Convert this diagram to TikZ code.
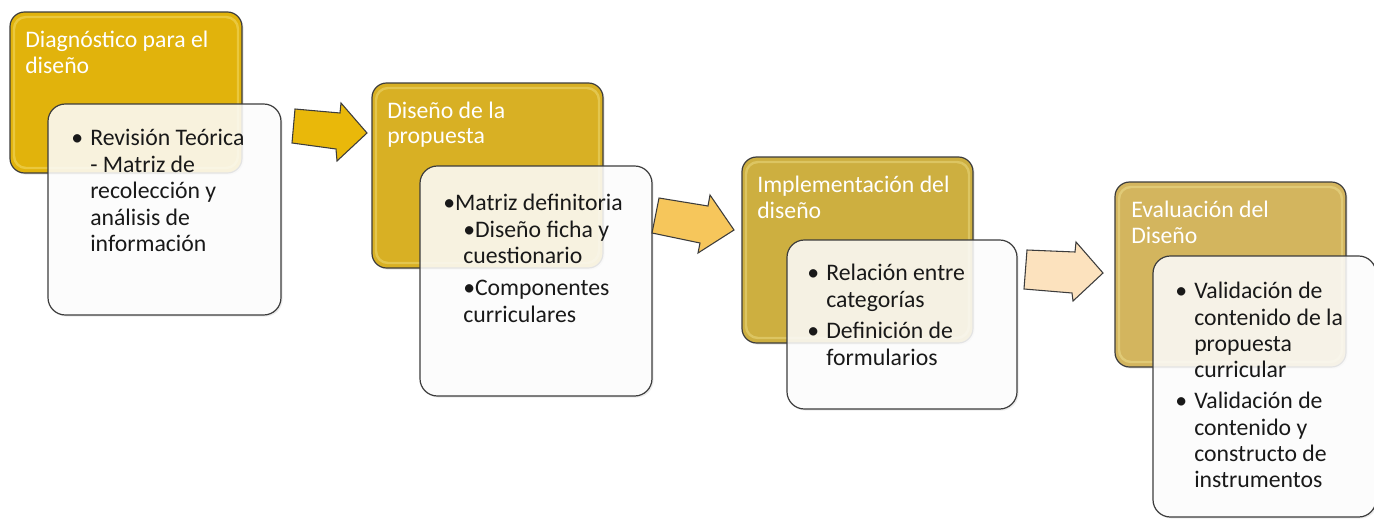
\documentclass[tikz,border=0pt]{standalone}
\usepackage{fontspec}
\setmainfont{Carlito}
\usetikzlibrary{shadows}
\definecolor{gA}{HTML}{E1B30C}
\definecolor{gB}{HTML}{D8B024}
\definecolor{gC}{HTML}{CDAF40}
\definecolor{gD}{HTML}{D3B55E}
\definecolor{aA}{HTML}{E9B80A}
\definecolor{aB}{HTML}{F6C65B}
\definecolor{aC}{HTML}{FCE2BE}
\definecolor{edge}{HTML}{3C3C3C}
\begin{document}
\begin{tikzpicture}[x=0.75pt,y=-0.75pt,
  goldbox/.style={rounded corners=11pt, draw=edge, line width=0.9pt,
     drop shadow={shadow xshift=1.2pt, shadow yshift=-1.2pt, opacity=0.2}},
  glow/.style={rounded corners=9pt, draw=yellow!30!white, line width=1.8pt, draw opacity=0.3},
  whitebox/.style={rounded corners=13pt, draw=edge, line width=0.9pt, fill=white, fill opacity=0.85,
     drop shadow={shadow xshift=1.2pt, shadow yshift=-1.2pt, opacity=0.15}},
  arrowshape/.style={draw=edge, line width=0.8pt, line join=miter},
  title/.style={anchor=base west, inner sep=0pt, text=white, font=\fontsize{17.8}{21}\selectfont},
  body/.style={anchor=base west, inner sep=0pt, text=black!90, font=\fontsize{17.8}{21}\selectfont}
]
\useasboundingbox[fill=white] (0,0) rectangle (1374,518);

% ---------- Step 1
\draw[goldbox, fill=gA] (10,12) rectangle (242,173);
\draw[glow] (14,17) rectangle (238,168);
\node[title] (t1a) at (25,47) {Diagnóstico para el};
\node[title] (t1b) at (25,73) {diseño};
\draw[whitebox] (48,104) rectangle (281,315);
\node[body] (b1) at (71,145) {•};
\node[body] (s1a) at (90,145) {Revisión Teórica};
\node[body] (s1b) at (90,172) {- Matriz de};
\node[body] (s1c) at (90,198) {recolección y};
\node[body] (s1d) at (90,225) {análisis de};
\node[body] (s1e) at (90,251) {información};

% ---------- Arrow 1
\draw[arrowshape, fill=aA] (295,109) -- (340,113) -- (341,103) -- (367,133) -- (337,161) -- (336,149) -- (292,143) -- cycle;

% ---------- Step 2
\draw[goldbox, fill=gB] (372,83) rectangle (603,268);
\draw[glow] (376,88) rectangle (599,263);
\node[title] (t2a) at (387,118) {Diseño de la};
\node[title] (t2b) at (387,143) {propuesta};
\draw[whitebox] (420,166) rectangle (652,396);
\node[body] (s2a) at (443,210) {•Matriz definitoria};
\node[body] (s2b) at (463,237) {•Diseño ficha y};
\node[body] (s2c) at (463,263) {cuestionario};
\node[body] (s2d) at (463,295) {•Componentes};
\node[body] (s2e) at (463,322) {curriculares};

% ---------- Arrow 2
\draw[arrowshape, fill=aB] (659,198) -- (708,206) -- (710,195) -- (734,230) -- (698,253) -- (700,243) -- (652,233) -- cycle;

% ---------- Step 3
\draw[goldbox, fill=gC] (742,157) rectangle (973,343);
\draw[glow] (746,162) rectangle (969,338);
\node[title] (t3a) at (757,192) {Implementación del};
\node[title] (t3b) at (757,218) {diseño};
\draw[whitebox] (787,240) rectangle (1017,409);
\node[body] (b3a) at (807,280) {•};
\node[body] (s3a) at (826,280) {Relación entre};
\node[body] (s3b) at (826,307) {categorías};
\node[body] (b3b) at (807,338) {•};
\node[body] (s3c) at (826,338) {Definición de};
\node[body] (s3d) at (826,365) {formularios};

% ---------- Arrow 3
\draw[arrowshape, fill=aC] (1027,250) -- (1075,252) -- (1076,242) -- (1103,273) -- (1073,301) -- (1072,293) -- (1024,289) -- cycle;

% ---------- Step 4
\draw[goldbox, fill=gD] (1115,182) rectangle (1346,367);
\draw[glow] (1119,187) rectangle (1342,362);
\node[title] (t4a) at (1131,217) {Evaluación del};
\node[title] (t4b) at (1131,243) {Diseño};
\draw[whitebox] (1153,256) rectangle (1376,517);
\node[body] (b4a) at (1175,298) {•};
\node[body] (s4a) at (1194,298) {Validación de};
\node[body] (s4b) at (1194,325) {contenido de la};
\node[body] (s4c) at (1194,351) {propuesta};
\node[body] (s4d) at (1194,377) {curricular};
\node[body] (b4b) at (1175,408) {•};
\node[body] (s4e) at (1194,408) {Validación de};
\node[body] (s4f) at (1194,435) {contenido y};
\node[body] (s4g) at (1194,461) {constructo de};
\node[body] (s4h) at (1194,487) {instrumentos};
\end{tikzpicture}
\end{document}
